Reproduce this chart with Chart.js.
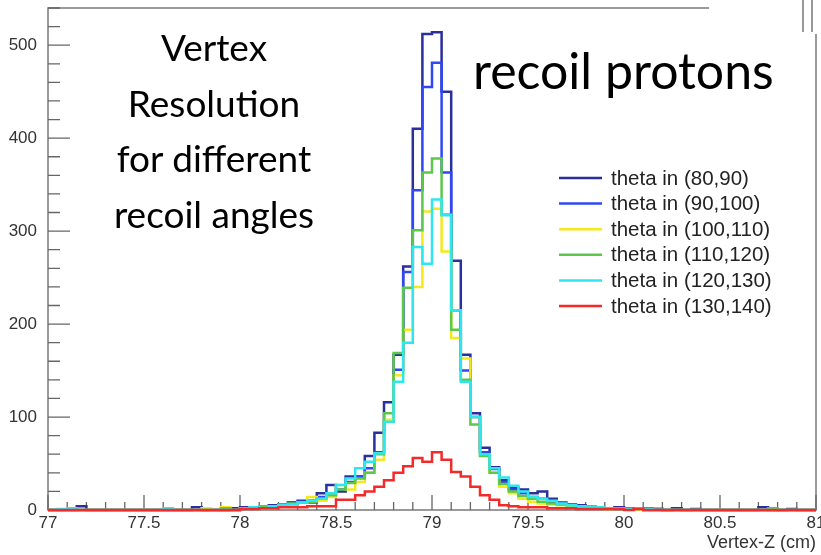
<!DOCTYPE html>
<html><head><meta charset="utf-8">
<script src="https://cdn.jsdelivr.net/npm/chart.js@4.4.0/dist/chart.umd.min.js"></script>
<style>
html,body{margin:0;padding:0;background:#fff;}
#wrap{position:relative;width:821px;height:555px;overflow:hidden;}
#c{position:absolute;left:0;top:0;}
.note{position:absolute;font-family:Lato,"Open Sans",sans-serif;color:#000;text-align:center;white-space:nowrap;}
.cover{position:absolute;background:#fff;}
.vline{position:absolute;background:#999;width:2px;}
</style></head><body>
<div id="wrap">
<canvas id="c" width="821" height="555"></canvas>
<div class="cover" style="left:709px;top:0;width:112px;height:34px;"></div>
<div class="vline" style="left:802px;top:0;height:32px;"></div>
<div class="vline" style="left:811px;top:0;height:32px;"></div>
<div class="note" style="left:94px;top:19px;width:240px;font-size:37px;line-height:55.5px;">Vertex<br>Resolution<br>for different<br>recoil angles</div>
<div class="note" style="left:473px;top:40px;font-size:50px;line-height:60px;">recoil protons</div>
</div>
<script>
// histogram bins: 80 bins of width 0.05 cm from 77 to 81
const binEdges = Array.from({length: 81}, (_, i) => +(77 + 0.05 * i).toFixed(2));
const seriesLabels = ["theta in (80,90)", "theta in (90,100)", "theta in (100,110)", "theta in (110,120)", "theta in (120,130)", "theta in (130,140)"];
const xTickLabels = [77, 77.5, 78, 78.5, 79, 79.5, 80, 80.5, 81];
const yTickLabels = [0, 100, 200, 300, 400, 500];

const theta80_90 = [
0,0,0,4,0,0,0,0,0,0,
0,0,0,0,0,3,0,0,0,2,
3,2,4,5,6,8,10,10,18,27,
20,36,36,58,83,116,167,262,410,512,
514,450,268,167,104,67,46,32,24,22,
18,20,12,8,6,5,4,3,2,3,
2,1,2,1,0,2,0,1,0,0,
0,0,0,0,3,0,0,1,0,0];
const theta90_100 = [
0,0,0,0,0,0,0,0,0,0,
0,0,0,0,0,0,0,0,0,0,
2,3,3,4,6,8,9,8,14,18,
22,30,36,45,62,95,151,256,344,455,
481,363,215,150,100,62,44,30,22,18,
14,12,9,7,5,4,3,2,2,1,
1,1,0,1,0,0,0,0,0,0,
0,0,0,0,0,0,0,0,0,0];
const theta100_110 = [
0,0,0,0,0,0,0,0,0,0,
0,0,0,0,0,0,2,0,3,0,
2,2,3,4,5,6,8,14,10,14,
27,22,30,40,54,97,145,194,240,321,
324,278,185,163,100,60,40,25,18,12,
9,7,6,5,4,3,2,2,1,1,
1,0,1,0,0,0,0,0,0,0,
0,0,0,0,0,0,0,0,0,0];
const theta110_120 = [
0,0,0,0,0,0,0,0,0,0,
0,0,0,0,0,0,0,0,2,0,
2,3,4,4,6,7,8,9,12,16,
22,29,34,40,60,104,169,239,301,363,
378,318,194,140,92,58,40,28,20,15,
12,9,7,6,5,4,4,3,2,2,
1,1,1,0,0,0,0,0,0,0,
0,0,0,0,0,2,0,0,0,0];
const theta120_130 = [
0,1,2,0,0,0,0,0,0,0,
0,0,2,0,0,0,0,0,0,0,
2,3,2,4,5,6,8,10,12,18,
27,34,45,52,61,95,138,180,283,265,
334,317,215,138,100,60,45,35,26,20,
14,12,10,7,5,4,3,3,2,2,
1,1,1,0,0,0,0,0,0,0,
0,0,0,0,0,0,0,0,0,0];
const theta130_140 = [
0,0,0,0,0,0,0,0,0,0,
0,0,0,0,0,0,0,0,0,0,
1,1,2,2,3,3,3,4,4,4,
11,11,16,20,25,32,40,47,56,52,
62,54,41,36,25,16,11,5,4,3,
3,3,2,2,2,1,1,1,1,1,
0,1,0,0,0,0,0,0,0,0,
0,0,0,0,0,0,0,0,0,0];

const seriesValues = [theta80_90, theta90_100, theta100_110, theta110_120, theta120_130, theta130_140];
const seriesColors = ["#2a2f9e", "#2f48f5", "#f5e81c", "#5cc84a", "#2ee6f0", "#f42a2a"];

function toPoints(vals) {
  const pts = vals.map((v, i) => ({x: binEdges[i], y: v}));
  pts.push({x: binEdges[binEdges.length - 1], y: vals[vals.length - 1]});
  return pts;
}

const datasets = seriesValues.map((vals, i) => ({
  label: seriesLabels[i],
  data: toPoints(vals),
  borderColor: seriesColors[i],
  backgroundColor: seriesColors[i],
  borderWidth: 2.5,
  pointRadius: 0,
  stepped: 'before',
  fill: false,
  clip: 6,
  order: seriesValues.length - 1 - i
}));

const FONT = "'Liberation Sans', Arial, sans-serif";

const framePlugin = {
  id: 'frame',
  beforeDatasetsDraw(chart) {
    const {ctx, chartArea: a, scales: {x, y}} = chart;
    ctx.save();
    ctx.strokeStyle = '#7a7a7a';
    ctx.lineWidth = 1.5;
    ctx.strokeRect(a.left, a.top, a.right - a.left, a.bottom - a.top);
    ctx.strokeStyle = '#666';
    ctx.lineWidth = 1.3;
    ctx.beginPath();
    for (let v = 0; v <= 540; v += 20) {
      const py = y.getPixelForValue(v);
      if (py < a.top) continue;
      const len = (v % 100 === 0) ? 22 : 12;
      ctx.moveTo(a.left, py); ctx.lineTo(a.left + len, py);
    }
    for (let k = 0; k <= 40; k++) {
      const v = 77 + k * 0.1;
      const px = x.getPixelForValue(v);
      const len = (k % 5 === 0) ? 15 : 8;
      ctx.moveTo(px, a.bottom); ctx.lineTo(px, a.bottom - len);
    }
    ctx.stroke();
    ctx.restore();
  },
  afterDraw(chart) {
    const {ctx} = chart;
    ctx.save();
    ctx.font = '20.5px ' + FONT;
    ctx.textBaseline = 'middle';
    ctx.textAlign = 'left';
    chart.data.datasets.forEach((ds, i) => {
      const yy = 178 + i * 25.6;
      ctx.strokeStyle = ds.borderColor;
      ctx.lineWidth = 2.5;
      ctx.beginPath(); ctx.moveTo(559, yy); ctx.lineTo(602, yy); ctx.stroke();
      ctx.fillStyle = '#222';
      ctx.fillText(ds.label, 611, yy + 1);
    });
    ctx.restore();
  }
};

new Chart(document.getElementById('c'), {
  type: 'line',
  data: {datasets},
  options: {
    responsive: false,
    animation: false,
    events: [],
    layout: {padding: {top: 8, right: 5, left: 0, bottom: 0}},
    plugins: {legend: {display: false}, tooltip: {enabled: false}},
    scales: {
      x: {
        type: 'linear', min: 77, max: 81,
        afterBuildTicks: s => { s.ticks = xTickLabels.map(v => ({value: v})); },
        afterFit: s => { s.height = 45; s.paddingLeft = 0; s.paddingRight = 0; },
        grid: {display: false, drawTicks: false},
        border: {display: false},
        ticks: {color: '#333', font: {family: FONT, size: 17}, padding: 3, maxRotation: 0, autoSkip: false,
                callback: v => String(v)},
        title: {display: true, text: 'Vertex-Z (cm)', align: 'end', color: '#333',
                font: {family: FONT, size: 18}, padding: {top: 0, bottom: 1}}
      },
      y: {
        type: 'linear', min: 0, max: 540,
        afterBuildTicks: s => { s.ticks = yTickLabels.map(v => ({value: v})); },
        afterFit: s => { s.width = 48; s.paddingTop = 0; s.paddingBottom = 0; },
        grid: {display: false, drawTicks: false},
        border: {display: false},
        ticks: {color: '#333', font: {family: FONT, size: 17}, padding: 11, autoSkip: false}
      }
    }
  },
  plugins: [framePlugin]
});
</script>
</body></html>
